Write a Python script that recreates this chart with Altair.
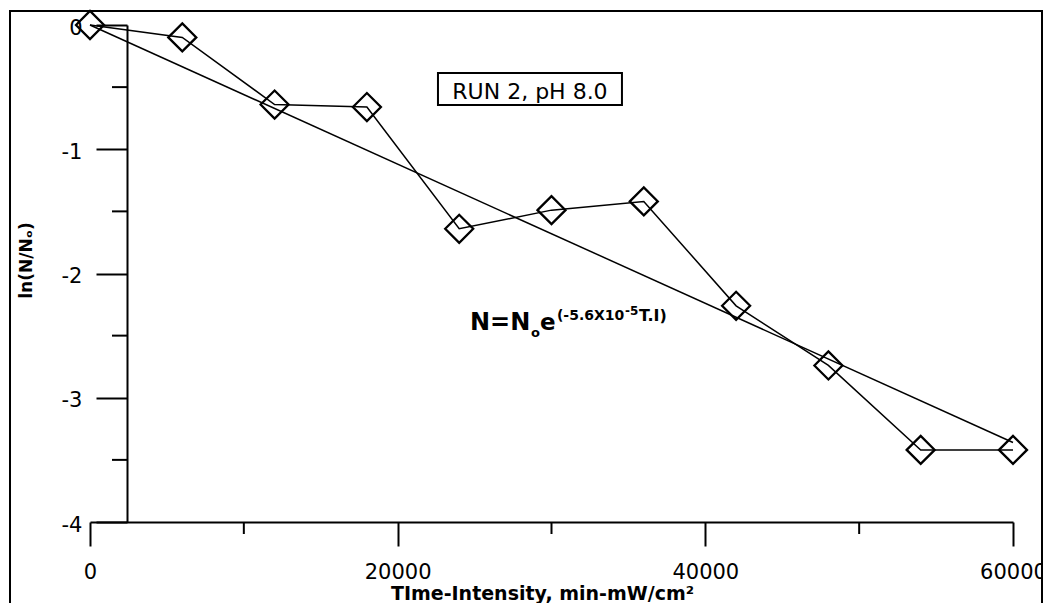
import altair as alt
import pandas as pd

# ---- data ----
time_intensity = [0, 6000, 12000, 18000, 24000, 30000, 36000, 42000, 48000, 54000, 60000]
ln_ratio = [0, -0.10, -0.64, -0.66, -1.64, -1.49, -1.42, -2.26, -2.74, -3.42, -3.42]

fit_x = [0, 60000]
fit_y = [0, -3.36]

x_major = [0, 20000, 40000, 60000]
x_minor = [10000, 30000, 50000]
y_major = [-4, -3, -2, -1, 0]
y_minor = [-3.5, -2.5, -1.5, -0.5]

run_label = ["RUN 2, pH 8.0"]
run_label_x = [28600]
run_label_y = [-0.536]
box_x = [22620]
box_x2 = [34580]
box_y = [-0.386]
box_y2 = [-0.644]

formula_x = [24700]
formula_y = [-2.455]
formula_parts = ["N=N", "o", "e", "(-5.6X10", "-5", "T.I)"]

FONT = "DejaVu Sans"
W, H = 923, 497
Y_AXIS_OFFSET = 37

meas = pd.DataFrame({"t": time_intensity, "v": ln_ratio})
fit = pd.DataFrame({"t": fit_x, "v": fit_y})
box = pd.DataFrame({"t": box_x, "t2": box_x2, "v": box_y, "v2": box_y2})
lab = pd.DataFrame({"t": run_label_x, "v": run_label_y, "txt": run_label})
form = pd.DataFrame({"t": formula_x, "v": formula_y})
xmin_df = pd.DataFrame({"t": x_minor})
ymin_df = pd.DataFrame({"v": y_minor})

x_scale = alt.Scale(domain=[0, 60000], nice=False, zero=False)
y_scale = alt.Scale(domain=[-4, 0], nice=False, zero=False)

x_axis = alt.Axis(
    values=x_major, labelExpr="'' + datum.value",
    tickSize=24, tickWidth=2, tickColor="black", domainWidth=2, domainColor="black",
    labelFont=FONT, labelFontSize=21, labelColor="black", labelPadding=15,
    labelFlush=False, labelOverlap=False, labelBound=False, grid=False,
    title="TIme-Intensity, min-mW/cm²", titleFont=FONT, titleFontSize=19,
    titleFontWeight="bold", titleColor="black", titleX=452, titleY=77,
    titleAlign="center", titleBaseline="alphabetic",
)
y_axis = alt.Axis(
    values=y_major, orient="left", offset=-Y_AXIS_OFFSET,
    labelExpr="'' + datum.value",
    tickSize=31, tickWidth=2, tickColor="black", domainWidth=2, domainColor="black",
    labelFont=FONT, labelFontSize=21, labelColor="black", labelPadding=14,
    labelOffset=3, labelFlush=False, labelOverlap=False, grid=False,
    title="ln(N/Nₒ)", titleFont=FONT, titleFontSize=17, titleFontWeight="bold",
    titleColor="black", titleX=-101, titleY=235, titleAngle=270,
    titleAlign="center", titleBaseline="middle",
)

X = alt.X("t:Q", scale=x_scale, axis=x_axis)
Y = alt.Y("v:Q", scale=y_scale, axis=y_axis)

frame = alt.Chart(pd.DataFrame({"k": [0]})).mark_rect(
    fill="transparent", stroke="black", strokeWidth=2
).encode(x=alt.value(-80), x2=alt.value(952), y=alt.value(-14), y2=alt.value(700))

# minor ticks (positions from the scales)
x_minor_ticks = alt.Chart(xmin_df).mark_rule(color="black", strokeWidth=2).encode(
    x=X, y=alt.value(H), y2=alt.value(H + 12)
)
y_minor_ticks = alt.Chart(ymin_df).mark_rule(color="black", strokeWidth=2).encode(
    y=Y, x=alt.value(Y_AXIS_OFFSET - 15), x2=alt.value(Y_AXIS_OFFSET)
)

fit_line = alt.Chart(fit).mark_line(color="black", strokeWidth=1.5).encode(x=X, y=Y)
meas_line = alt.Chart(meas).mark_line(color="black", strokeWidth=1.5).encode(x=X, y=Y)
meas_pts = alt.Chart(meas).mark_point(
    shape="diamond", size=784, filled=False, color="black", strokeWidth=2.3, opacity=1
).encode(x=X, y=Y)

box_rect = alt.Chart(box).mark_rect(fill="transparent", stroke="black", strokeWidth=2).encode(
    x=X, x2="t2:Q", y=Y, y2="v2:Q"
)
box_text = alt.Chart(lab).mark_text(
    font=FONT, fontSize=22, color="black", align="center", baseline="middle"
).encode(x=X, y=Y, text="txt:N")

# formula pieces: (dx, dy, fontSize)
piece_style = [(0, 0, 24), (61, 7, 13), (70, 0, 23), (87, -10, 14), (155, -15, 12), (169, -9, 16)]
formula_layers = []
for txt, (dx, dy, fs) in zip(formula_parts, piece_style):
    formula_layers.append(
        alt.Chart(form).mark_text(
            text=txt, font=FONT, fontSize=fs, fontWeight="bold", color="black",
            align="left", baseline="alphabetic", dx=dx, dy=dy
        ).encode(x=X, y=Y)
    )

chart = alt.layer(
    frame, x_minor_ticks, y_minor_ticks, fit_line, meas_line, meas_pts,
    box_rect, box_text, *formula_layers
).properties(
    width=W, height=H,
    autosize=alt.AutoSizeParams(type="none"),
    padding={"left": 82, "top": 17, "right": 30, "bottom": 81},
    background="white",
).configure_view(stroke="transparent")

chart.save("out.html", embed_options={"renderer": "svg", "actions": False})
